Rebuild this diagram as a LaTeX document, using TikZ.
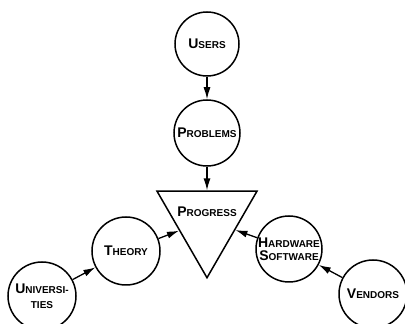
\documentclass[tikz,border=0pt]{standalone}
\usepackage{fontspec}
\setmainfont{Liberation Sans}
\usepackage{tikz}
\usetikzlibrary{shapes.geometric,arrows.meta}
\newcommand{\capword}[2]{{\fontsize{14}{15}\selectfont #1}#2}
\begin{document}
\begin{tikzpicture}[x=1pt, y=1pt,
   groupnode/.style={circle, draw, line width=1.5pt, minimum size=66pt, inner sep=0pt,
      align=center, font=\bfseries\fontsize{10}{15}\selectfont},
   trinode/.style={regular polygon, regular polygon sides=3, shape border rotate=180,
      draw, line width=1.5pt, minimum size=115.5pt, inner sep=0pt},
   feeds/.style={-{Latex[length=12pt,width=7pt]}, line width=1.3pt}]
   	\useasboundingbox (0,0) rectangle (405,324);
   	\node[groupnode, minimum size=64pt] (users) at (207,280) {\capword{U}{SERS}};
   	\node[groupnode] (problems) at (207,191) {\capword{P}{ROBLEMS}};
   	\node[trinode, label={[yshift=8pt, font=\bfseries\fontsize{10}{15}\selectfont]center:\capword{P}{ROGRESS}}] (progress) at (207,104) {};
   	\node[groupnode, minimum size=68pt] (theory) at (126,73) {\capword{T}{HEORY}};
   	\node[groupnode, minimum size=68pt] (univ) at (42,28) {\capword{U}{NIVERSI-}\\TIES};
   	\node[groupnode] (hwsw) at (289,75) {\capword{H}{ARDWARE}\\[-2pt]\capword{S}{OFTWARE}};
   	\node[groupnode, minimum size=68pt] (vendors) at (373,30) {\capword{V}{ENDORS}};
        	\draw[feeds] (users) -- (problems);
        	\draw[feeds] (problems) -- (progress);
        	\draw[feeds] (theory) -- (progress);
        	\draw[feeds] (hwsw) -- (progress);
        	\draw[feeds] (univ) -- (theory);
        	\draw[feeds] (vendors) -- (hwsw);
\end{tikzpicture}
\end{document}
